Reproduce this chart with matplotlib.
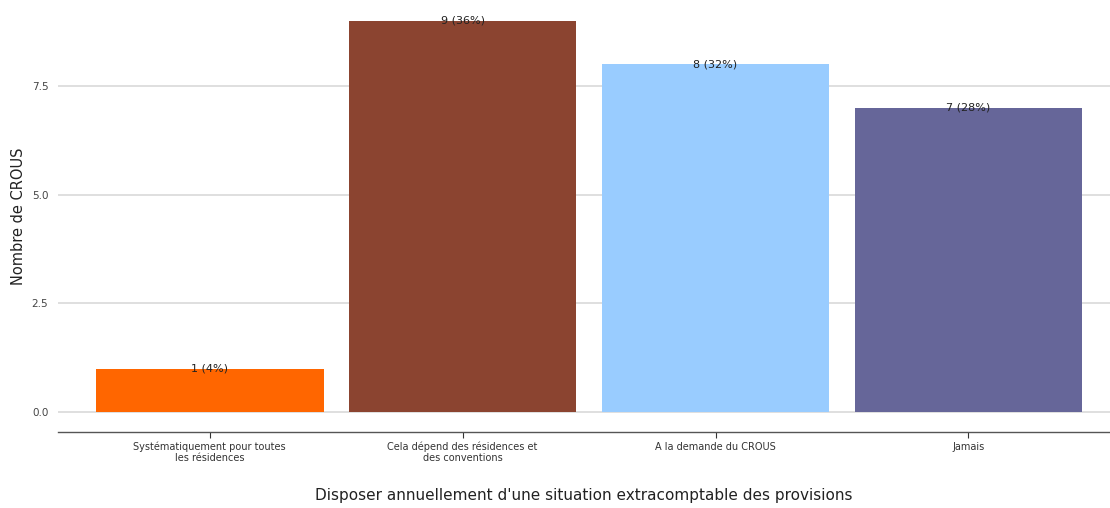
import matplotlib
matplotlib.use("Agg")
import matplotlib.pyplot as plt

categories = ["Systématiquement pour toutes\nles résidences",
              "Cela dépend des résidences et\ndes conventions",
              "A la demande du CROUS",
              "Jamais"]
values = [1, 9, 8, 7]
labels = ["1 (4%)", "9 (36%)", "8 (32%)", "7 (28%)"]
colors = ["#FF6600", "#8B4430", "#99CCFF", "#666699"]
yticks = [0.0, 2.5, 5.0, 7.5]

fig = plt.figure(figsize=(11.1, 5.08), dpi=100)
ax = fig.add_axes([58/1110, 76/508, 1 - 58/1110, 432/508])
x = range(len(categories))
ax.bar(x, values, width=0.9, color=colors, zorder=2)
for xi, v, lab in zip(x, values, labels):
    ax.text(xi, v, lab, ha="center", va="center", fontsize=8, color="#222222", zorder=3)

ax.set_xlim(-0.6, 3.56)
ax.set_ylim(-0.46, 9.48)
ax.set_yticks(yticks)
ax.set_yticklabels([f"{t:.1f}" for t in yticks])
ax.set_xticks(list(x))
ax.set_xticklabels(categories, fontsize=7, color="#333333", linespacing=1.05)
ax.tick_params(axis="y", length=0, labelsize=7.5, labelcolor="#444444", pad=7)
ax.tick_params(axis="x", length=4, color="#333333", pad=3)
ax.grid(axis="y", color="#D9D9D9", linewidth=1.2, zorder=0)
for s in ["top", "right", "left"]:
    ax.spines[s].set_visible(False)
ax.spines["bottom"].set_color("#555555")
ax.spines["bottom"].set_linewidth(1.0)
ax.set_ylabel("Nombre de CROUS", fontsize=10.5, color="#222222")
ax.yaxis.set_label_coords(-0.030, 0.5)
ax.set_xlabel("Disposer annuellement d'une situation extracomptable des provisions",
              fontsize=11, color="#222222")
ax.xaxis.set_label_coords(0.5, (432 - 488) / 432)
fig.savefig("out.png", dpi=100)
